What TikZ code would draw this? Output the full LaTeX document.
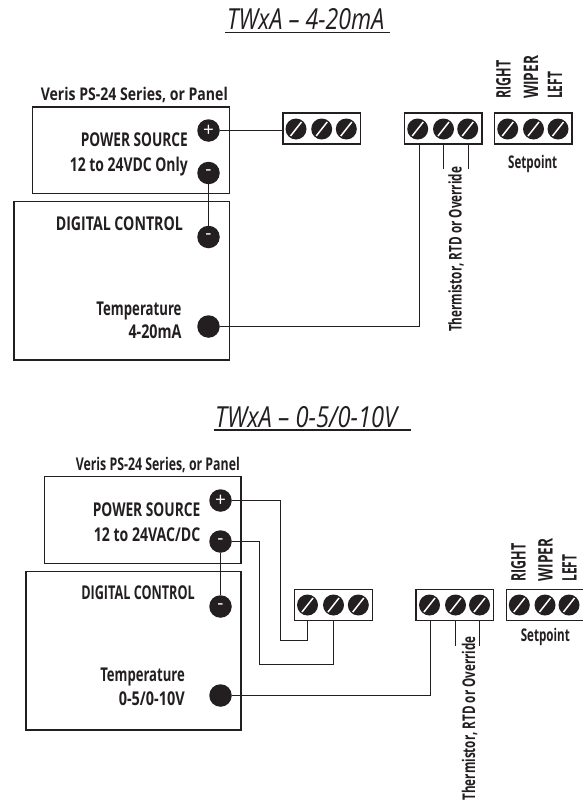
\documentclass[tikz,border=0pt]{standalone}
\usepackage{graphicx}
\usepackage{fontspec}
\setmainfont{Open Sans}
\usetikzlibrary{calc}
\definecolor{ink}{HTML}{231F20}
\newcommand{\fitw}[2]{\resizebox{#1pt}{\height}{#2}}
\tikzset{
  x=1pt,y=-1pt,
  boxline/.style={draw=ink,line width=1.2pt},
  heavybox/.style={draw=ink,line width=1.6pt},
  wire/.style={draw=ink,line width=1.2pt},
  port/.style={circle,fill=ink,draw=none,minimum size=22.5pt,inner sep=0pt,text=white,font=\fontsize{19}{19}\selectfont},
  screw/.style={circle,fill=ink,draw=none,minimum size=21pt,inner sep=0pt,
    path picture={\draw[white,line width=1.5pt] ($(path picture bounding box.center)+(-5.5,7)$) -- ($(path picture bounding box.center)+(5.5,-7)$);}},
  block/.style={draw=ink,line width=1.2pt,fill=white,minimum width=77.5pt,minimum height=31pt,inner sep=0pt},
  lab/.style={inner sep=0pt,text=ink,font=\bfseries\fontsize{19}{19}\selectfont},
  small/.style={inner sep=0pt,text=ink,font=\bfseries\fontsize{17.5}{17.5}\selectfont},
  ttl/.style={inner sep=0pt,text=ink,font=\itshape\fontsize{29}{29}\selectfont},
  vert/.style={inner sep=0pt,text=ink,rotate=90,anchor=base west,font=\bfseries\fontsize{20}{20}\selectfont},
  vertb/.style={vert,font=\bfseries\fontsize{17.5}{17.5}\selectfont},
}
\begin{document}
\begin{tikzpicture}
\useasboundingbox (0,0) rectangle (582,803);
\fill[white] (0,0) rectangle (582,803);

% ---------- upper diagram ----------
\node[ttl,anchor=base west] (t1) at (227,30) {\fitw{157}{TWxA – 4-20mA}};
\coordinate (t1a) at (225,32.7); \coordinate (t1b) at (389.5,32.7);
\draw[ink,line width=1.3pt] (t1a) -- (t1b);

\node[small,anchor=base east] (v1) at (228,100) {\fitw{187}{Veris PS-24 Series, or Panel}};
\node[boxline,minimum width=197pt,minimum height=86.5pt,inner sep=0pt] (ps1) at (131,150.2) {};
\node[heavybox,minimum width=215.5pt,minimum height=158.5pt,inner sep=0pt] (dc1) at (121.7,280.7) {};
\node[lab,anchor=base east] (p1a) at (188,146.7) {\fitw{107}{POWER SOURCE}};
\node[lab,anchor=base east] (p1b) at (188,171) {\fitw{118}{12 to 24VDC Only}};
\node[lab,anchor=base east] (d1) at (183,230) {\fitw{127}{DIGITAL CONTROL}};
\node[lab,anchor=base east] (m1a) at (181.7,315) {\fitw{85}{Temperature}};
\node[lab,anchor=base east] (m1b) at (181.7,338) {\fitw{53}{4-20mA}};

\node[port] (pp1) at (208.5,130.5) {+};
\node[port] (pn1) at (208.5,173) {-};
\node[port] (dn1) at (208.5,237) {-};
\node[port] (dt1) at (208.5,326.5) {};

\node[block] (a1) at (321.8,128.4) {};
\node[block] (b1) at (443.2,128.4) {};
\node[block] (c1) at (533.3,128.4) {};
\node[screw] (a1x) at (296,129) {}; \node[screw] (a1y) at (321.7,129) {}; \node[screw] (a1z) at (346.3,129) {};
\node[screw] (b1x) at (417.7,129) {}; \node[screw] (b1y) at (443.5,129) {}; \node[screw] (b1z) at (467.7,129) {};
\node[screw] (c1x) at (507.7,129) {}; \node[screw] (c1y) at (533.5,129) {}; \node[screw] (c1z) at (558,129) {};

\coordinate (w1e) at (443.5,169.3); \coordinate (w1f) at (468.5,169.3);
\coordinate (w1c) at (419.5,326.5);
\draw[wire] (pn1) -- (dn1);
\draw[wire] (pp1.east) -- (a1.west |- pp1.east);
\draw[wire] (dt1.east) -- (w1c) -- (w1c |- b1.south);
\draw[wire] (w1e |- b1.south) -- (w1e);
\draw[wire] (w1f |- b1.south) -- (w1f);

\node[vert] (r1) at (510.7,99) {\fitw{38}{RIGHT}};
\node[vert] (w1) at (538,99) {\fitw{43}{WIPER}};
\node[vert] (l1) at (562,99) {\fitw{27}{LEFT}};
\node[small,anchor=base] (s1) at (532.7,168) {\fitw{49}{Setpoint}};
\node[vertb] (h1) at (461.7,332) {\fitw{165}{Thermistor, RTD or Override}};

% ---------- lower diagram ----------
\node[ttl,anchor=base west] (t2) at (215,427) {\fitw{182}{TWxA – 0-5/0-10V}};
\coordinate (t2a) at (213.5,430); \coordinate (t2b) at (411,430);
\draw[ink,line width=1.3pt] (t2a) -- (t2b);

\node[small,anchor=base east] (v2) at (240,470) {\fitw{164}{Veris PS-24 Series, or Panel}};
\node[boxline,minimum width=196.5pt,minimum height=86.6pt,inner sep=0pt] (ps2) at (142.8,520) {};
\node[heavybox,minimum width=215pt,minimum height=158.7pt,inner sep=0pt] (dc2) at (133.5,650.7) {};
\node[lab,anchor=base east] (p2a) at (200.5,516.7) {\fitw{107.5}{POWER SOURCE}};
\node[lab,anchor=base east] (p2b) at (200.5,541) {\fitw{106.5}{12 to 24VAC/DC}};
\node[lab,anchor=base east] (d2) at (195,599) {\fitw{113.5}{DIGITAL CONTROL}};
\node[lab,anchor=base east] (m2a) at (185,681.7) {\fitw{84.5}{Temperature}};
\node[lab,anchor=base east] (m2b) at (185,705.7) {\fitw{66}{0-5/0-10V}};

\node[port] (pp2) at (220.5,500.5) {+};
\node[port] (pn2) at (220.5,541.5) {-};
\node[port] (dn2) at (220.5,606.5) {-};
\node[port] (dt2) at (220.5,695.5) {};

\node[block] (a2) at (333.5,604.7) {};
\node[block] (b2) at (454.7,604.7) {};
\node[block] (c2) at (545,604.7) {};
\node[screw] (a2x) at (307.5,605) {}; \node[screw] (a2y) at (333.5,605) {}; \node[screw] (a2z) at (358.3,605) {};
\node[screw] (b2x) at (429.5,605) {}; \node[screw] (b2y) at (455.5,605) {}; \node[screw] (b2z) at (479.5,605) {};
\node[screw] (c2x) at (519.3,605) {}; \node[screw] (c2y) at (545,605) {}; \node[screw] (c2z) at (569,605) {};

\coordinate (w2a) at (280.5,500.5); \coordinate (w2b) at (280.5,640.5);
\coordinate (w2c) at (259.5,541.5); \coordinate (w2d) at (259.5,664.5);
\coordinate (w2t) at (430.5,695.5);
\coordinate (w2e) at (455.5,646); \coordinate (w2f) at (479.5,646);
\draw[wire] (pn2) -- (dn2);
\draw[wire] (pp2.east) -- (w2a) -- (w2b) -| (a2x |- a2.south);
\draw[wire] (pn2.east) -- (w2c) -- (w2d) -| (a2y |- a2.south);
\draw[wire] (dt2.east) -- (w2t) -- (w2t |- b2.south);
\draw[wire] (w2e |- b2.south) -- (w2e);
\draw[wire] (w2f |- b2.south) -- (w2f);

\node[vert] (r2) at (525.7,581.7) {\fitw{38}{RIGHT}};
\node[vert] (w2) at (552.7,581.7) {\fitw{43}{WIPER}};
\node[vert] (l2) at (576.7,581.7) {\fitw{27}{LEFT}};
\node[small,anchor=base] (s2) at (545.3,641) {\fitw{49}{Setpoint}};
\node[vertb] (h2) at (475,800.7) {\fitw{164}{Thermistor, RTD or Override}};
\end{tikzpicture}
\end{document}
